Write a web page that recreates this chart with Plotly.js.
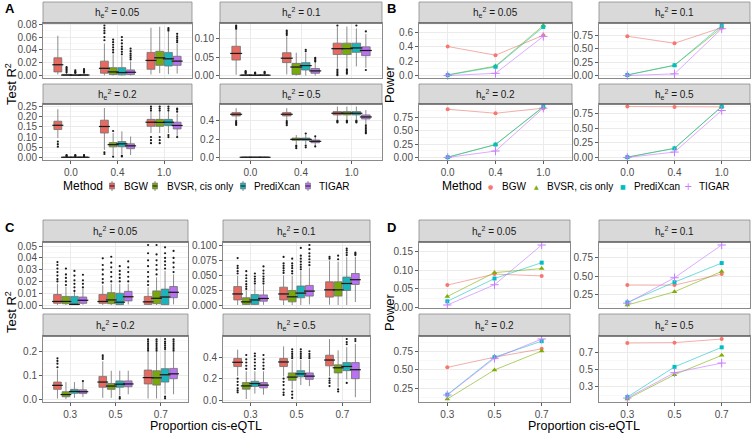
<!DOCTYPE html>
<html><head><meta charset="utf-8">
<script src="https://cdn.plot.ly/plotly-3.0.1.min.js"></script>
<style>html,body{margin:0;padding:0;background:#fff}#chart{width:754px;height:434px}</style>
</head><body><div id="chart"></div>
<script>
// ---------------- DATA ----------------
const methods = ['BGW', 'BVSR, cis only', 'PrediXcan', 'TIGAR'];
const propA = ['0.0', '0.4', '1.0'];
const propC = ['0.3', '0.5', '0.7'];
const herit = ['0.05', '0.1', '0.2', '0.5'];
// box stats: rows = methods, cols = proportion categories
// Panel A, h2 = 0.05
const A05_q1 = [[0.0056,0.0036,0.0097],[0.0002,0.0015,0.0158],[0.0001,0.001,0.0148],[0.0002,0.0015,0.0158]];
const A05_med = [[0.0168,0.0112,0.0235],[0.0007,0.0056,0.0276],[0.0005,0.0046,0.026],[0.0007,0.005,0.0224]];
const A05_q3 = [[0.0276,0.0224,0.036],[0.0017,0.0122,0.0378],[0.0013,0.0122,0.036],[0.0016,0.0087,0.030]];
const A05_lo = [[0.0015,0.0003,0.0015],[0,0,0.0036],[0,0,0.002],[0,0,0.003]];
const A05_hi = [[0.062,0.05,0.0745],[0.0039,0.033,0.076],[0.0031,0.03,0.068],[0.0037,0.022,0.0495]];
const A05_out = [[[],[0.055,0.06,0.066,0.07,0.074,0.078],[]],
  [[0.005,0.007,0.009,0.011,0.013],[0.036,0.04,0.044,0.048,0.052,0.056],[]],
  [[0.004,0.005,0.006,0.008],[0.033,0.037,0.041,0.045,0.05,0.055,0.06],[0.07,0.072,0.074]],
  [[0.0045,0.006,0.008,0.01],[0.025,0.028,0.031,0.034,0.038,0.042],[0.052,0.055,0.058,0.061,0.065]]];
// Panel A, h2 = 0.1
const A10_q1 = [[0.042,0.035,0.057],[0.0002,0.003,0.057],[0.0001,0.015,0.063],[0.0002,0.006,0.054]];
const A10_med = [[0.060,0.047,0.073],[0.0008,0.023,0.073],[0.0006,0.027,0.075],[0.0008,0.0125,0.068]];
const A10_q3 = [[0.0795,0.062,0.088],[0.002,0.033,0.088],[0.0015,0.035,0.088],[0.002,0.019,0.078]];
const A10_lo = [[0.002,0.003,0.021],[0,0,0.021],[0,0,0.025],[0,0,0.021]];
const A10_hi = [[0.124,0.106,0.133],[0.005,0.062,0.133],[0.004,0.062,0.128],[0.005,0.035,0.113]];
const A10_out = [[[0.127,0.13,0.133,0.136],[0.11,0.114,0.118,0.122],[0.001,0.004,0.008,0.012,0.016,0.136]],
  [[0.006,0.008,0.01,0.012],[],[0.005,0.009,0.013,0.017]],
  [[0.005,0.006,0.008],[0.066,0.07],[0.136]],
  [[0.006,0.008,0.01],[0.038,0.041,0.045,0.048],[0.015,0.12]]];
// Panel A, h2 = 0.2
const A20_q1 = [[0.137,0.12,0.153],[0.0002,0.052,0.153],[0.0002,0.053,0.157],[0.0002,0.043,0.14]];
const A20_med = [[0.158,0.152,0.173],[0.0008,0.063,0.172],[0.0008,0.067,0.173],[0.0008,0.057,0.157]];
const A20_q3 = [[0.178,0.183,0.187],[0.002,0.073,0.187],[0.002,0.078,0.187],[0.002,0.067,0.173]];
const A20_lo = [[0.095,0.037,0.12],[0,0.012,0.12],[0,0.015,0.12],[0,0.012,0.105]];
const A20_hi = [[0.237,0.243,0.225],[0.005,0.12,0.225],[0.005,0.128,0.225],[0.005,0.103,0.215]];
const A20_out = [[[0.078,0.065,0.053],[0.025,0.017],[0.23,0.24,0.25,0.1,0.085,0.07]],
  [[0.006,0.009,0.012],[0.13,0.004],[0.23,0.24,0.25,0.1,0.085,0.07]],
  [[0.006,0.009,0.012],[0.005,0.008],[0.23,0.24,0.25,0.11,0.1]],
  [[0.006,0.009,0.012],[],[0.225,0.235,0.24,0.1]]];
// Panel A, h2 = 0.5
const A50_q1 = [[0.451,0.451,0.462],[0.0005,0.186,0.462],[0.0005,0.186,0.462],[0.0005,0.16,0.418]];
const A50_med = [[0.469,0.469,0.48],[0.002,0.196,0.48],[0.002,0.196,0.48],[0.002,0.175,0.44]];
const A50_q3 = [[0.487,0.487,0.498],[0.004,0.211,0.498],[0.004,0.211,0.498],[0.004,0.189,0.462]];
const A50_lo = [[0.407,0.407,0.415],[0,0.145,0.415],[0,0.145,0.415],[0,0.13,0.36]];
const A50_hi = [[0.535,0.535,0.553],[0.009,0.244,0.553],[0.009,0.25,0.553],[0.009,0.22,0.516]];
const A50_out = [[[0.395,0.38,0.365,0.353],[0.395,0.38,0.365,0.35],[0.4,0.39,0.38]],
  [[],[0.13,0.115,0.1],[0.4,0.39,0.38]],
  [[],[0.26,0.13,0.11],[0.4,0.39,0.38]],
  [[],[0.23,0.12],[0.35,0.33,0.31,0.29,0.275,0.262]]];
// Panel C, h2 = 0.05
const C05_q1 = [[0.0014,0.0014,0.0005],[0.0011,0.0011,0.0011],[0.0003,0.0003,0.0003],[0.0014,0.0035,0.0062]];
const C05_med = [[0.003,0.003,0.0027],[0.003,0.0043,0.0057],[0.0005,0.0024,0.0068],[0.004,0.007,0.0108]];
const C05_q3 = [[0.0089,0.0089,0.0073],[0.0073,0.0105,0.012],[0.0073,0.01,0.0135],[0.0068,0.0116,0.0157]];
const C05_lo = [[0,0,0],[0,0,0],[0,0,0],[0.0002,0.0005,0.0005]];
const C05_hi = [[0.018,0.0167,0.015],[0.0154,0.018,0.0235],[0.011,0.018,0.029],[0.014,0.018,0.026]];
const C05_out = [[[0.02,0.022,0.025,0.028,0.031,0.034,0.0365],[0.019,0.022,0.026,0.03,0.034,0.0397],[0.017,0.02,0.024,0.028,0.033,0.038,0.044,0.051]],
  [[0.017,0.02,0.023,0.026,0.031],[0.02,0.024,0.028,0.032,0.036,0.041],[0.026,0.03,0.034,0.038,0.043,0.051]],
  [[0.012,0.015,0.018,0.021,0.025,0.029],[0.02,0.023,0.026,0.029,0.033],[0.031,0.034,0.037,0.04,0.044,0.049]],
  [[0.015,0.018,0.021,0.0257],[0.02,0.024,0.028,0.032,0.037],[0.028,0.032,0.036,0.04,0.046]]];
// Panel C, h2 = 0.1
const C10_q1 = [[0.0085,0.0085,0.0133],[0.001,0.0053,0.015],[0.001,0.0122,0.0245],[0.0064,0.015,0.0346]];
const C10_med = [[0.0186,0.0186,0.0255],[0.0053,0.0138,0.0255],[0.0085,0.02,0.0362],[0.011,0.0234,0.0426]];
const C10_q3 = [[0.031,0.03,0.039],[0.0122,0.0245,0.039],[0.0176,0.032,0.047],[0.017,0.033,0.053]];
const C10_lo = [[0,0,0.0005],[0,0,0],[0,0,0],[0.0003,0.001,0.005]];
const C10_hi = [[0.049,0.05,0.0745],[0.0245,0.049,0.073],[0.0335,0.057,0.081],[0.033,0.063,0.081]];
const C10_out = [[[0.053,0.057,0.062,0.066,0.079],[0.054,0.058,0.062,0.066,0.07,0.081],[0.078,0.081]],
  [[0.027,0.031,0.035,0.04,0.045,0.05,0.057],[0.053,0.057,0.062,0.066,0.07,0.078],[0.077,0.083]],
  [[0.036,0.04,0.044,0.048,0.053],[0.06,0.064,0.068,0.073,0.078,0.083,0.096],[0.084,0.088,0.092,0.095]],
  [[0.036,0.04,0.044,0.048,0.053,0.058,0.065],[0.067,0.072,0.077,0.082,0.087,0.094,0.101],[0.084,0.086,0.088]]];
// Panel C, h2 = 0.2
const C20_q1 = [[0.041,0.05,0.064],[0.0094,0.041,0.059],[0.024,0.05,0.072],[0.023,0.052,0.086]];
const C20_med = [[0.058,0.072,0.091],[0.019,0.055,0.09],[0.032,0.063,0.103],[0.031,0.064,0.107]];
const C20_q3 = [[0.072,0.096,0.123],[0.031,0.066,0.12],[0.041,0.077,0.129],[0.039,0.077,0.13]];
const C20_lo = [[0.002,0.005,0.002],[0,0.005,0.002],[0.005,0.015,0.02],[0.008,0.02,0.02]];
const C20_hi = [[0.126,0.16,0.2],[0.072,0.12,0.2],[0.072,0.12,0.207],[0.072,0.12,0.2]];
const C20_out = [[[0.135,0.15,0.162,0.173],[0.17,0.178,0.186],[0.205,0.213,0.221,0.229,0.237,0.245,0.253]],
  [[],[],[0.205,0.213,0.221,0.229,0.237,0.245,0.253]],
  [[],[0.002,0.008],[0.212,0.22,0.228,0.236,0.244,0.255,0.003,0.01]],
  [[0.076],[],[0.205,0.213,0.221,0.229,0.237,0.245,0.253]]];
// Panel C, h2 = 0.5
const C50_q1 = [[0.313,0.313,0.319],[0.102,0.184,0.253],[0.127,0.217,0.274],[0.114,0.193,0.199]];
const C50_med = [[0.352,0.355,0.373],[0.132,0.214,0.301],[0.154,0.244,0.313],[0.139,0.223,0.283]];
const C50_q3 = [[0.388,0.388,0.418],[0.163,0.253,0.328],[0.175,0.274,0.349],[0.163,0.253,0.349]];
const C50_lo = [[0.223,0.22,0.22],[0.01,0.1,0.117],[0.06,0.14,0.193],[0.05,0.13,0.027]];
const C50_hi = [[0.47,0.5,0.569],[0.268,0.373,0.463],[0.268,0.373,0.494],[0.268,0.373,0.524]];
const C50_out = [[[0.2,0.17,0.14,0.11,0.09,0.072],[0.2,0.17,0.14,0.1,0.07,0.048],[0.2,0.18,0.16,0.13]],
  [[0.29,0.32,0.35,0.38,0.42],[0.39,0.41,0.43,0.45,0.473,0.08,0.05,0.02],[0.1,0.08]],
  [[0.29,0.32,0.35,0.38,0.41,0.434],[0.39,0.41,0.43,0.45,0.473],[0.52,0.54,0.569,0.16]],
  [[0.29,0.32,0.35,0.38,0.42],[0.39,0.41,0.43,0.455],[0.55,0.569]]];
// Power (lines): rows = methods, cols = proportion categories
const B05_power = [[0.40,0.28,0.555],[0.01,0.13,0.69],[0.005,0.12,0.67],[0.0,0.03,0.54]];
const B10_power = [[0.73,0.60,0.89],[0.01,0.19,0.89],[0.01,0.19,0.93],[0.0,0.03,0.87]];
const B20_power = [[0.90,0.825,0.92],[0.005,0.24,0.94],[0.005,0.24,0.95],[0.0,0.12,0.92]];
const B50_power = [[0.878,0.872,0.872],[0.005,0.157,0.878],[0.005,0.157,0.878],[0.0,0.093,0.81]];
const D05_power = [[0.060,0.090,0.085],[0.029,0.094,0.105],[0.016,0.078,0.121],[0.006,0.061,0.169]];
const D10_power = [[0.382,0.38,0.53],[0.11,0.29,0.566],[0.145,0.42,0.68],[0.136,0.48,0.925]];
const D20_power = [[0.535,0.675,0.79],[0.10,0.50,0.76],[0.16,0.675,0.895],[0.155,0.66,0.925]];
const D50_power = [[0.807,0.81,0.852],[0.159,0.44,0.663],[0.181,0.53,0.756],[0.17,0.463,0.574]];

// ---------------- STYLE / LAYOUT ----------------
const W = 754, H = 434;
const boxFill = ['#E8695F', '#78A80A', '#19B5BB', '#B872F2'];
const ptCol = ['#F8766D', '#7CAE00', '#00BFC4', '#C77CFF'];
const lineCol = ['rgba(233,120,110,0.75)', 'rgba(124,174,0,0.75)', 'rgba(0,191,196,0.7)', 'rgba(199,124,255,0.8)'];
const syms = ['circle', 'triangle-up', 'square', 'cross-thin-open'];
const symSize = [4, 5, 4, 6];
const FONT = 'Liberation Sans, Arial, sans-serif';

const boxSet = (q1, med, q3, lo, hi, out) => ({q1, med, q3, lo, hi, out});
const rowsAB = [{strip:[2,23], plot:[23,78]}, {strip:[84,104], plot:[104,160]}];
const rowsCD = [{strip:[220,242], plot:[242,308]}, {strip:[314,336], plot:[336,402]}];
const colsA = [[43,192],[220,382]], colsB = [[419,572],[599,750]];
const colsC = [[43,188],[223,370]], colsD = [[419,570],[599,750]];

const panels = [
  {kind:'box', cats:propA, col:colsA[0], row:rowsAB[0], h:herit[0], d:boxSet(A05_q1,A05_med,A05_q3,A05_lo,A05_hi,A05_out), dt:0.02, t0:0, fmt:'.2f', bottom:false},
  {kind:'box', cats:propA, col:colsA[1], row:rowsAB[0], h:herit[1], d:boxSet(A10_q1,A10_med,A10_q3,A10_lo,A10_hi,A10_out), dt:0.05, t0:0, fmt:'.2f', bottom:false},
  {kind:'box', cats:propA, col:colsA[0], row:rowsAB[1], h:herit[2], d:boxSet(A20_q1,A20_med,A20_q3,A20_lo,A20_hi,A20_out), dt:0.05, t0:0, fmt:'.2f', bottom:true},
  {kind:'box', cats:propA, col:colsA[1], row:rowsAB[1], h:herit[3], d:boxSet(A50_q1,A50_med,A50_q3,A50_lo,A50_hi,A50_out), dt:0.2, t0:0, fmt:'.1f', bottom:true},
  {kind:'line', cats:propA, col:colsB[0], row:rowsAB[0], h:herit[0], v:B05_power, dt:0.2, t0:0, fmt:'.1f', bottom:false},
  {kind:'line', cats:propA, col:colsB[1], row:rowsAB[0], h:herit[1], v:B10_power, dt:0.25, t0:0, fmt:'.2f', bottom:false},
  {kind:'line', cats:propA, col:colsB[0], row:rowsAB[1], h:herit[2], v:B20_power, dt:0.25, t0:0, fmt:'.2f', bottom:true},
  {kind:'line', cats:propA, col:colsB[1], row:rowsAB[1], h:herit[3], v:B50_power, dt:0.25, t0:0, fmt:'.2f', bottom:true},
  {kind:'box', cats:propC, col:colsC[0], row:rowsCD[0], h:herit[0], d:boxSet(C05_q1,C05_med,C05_q3,C05_lo,C05_hi,C05_out), dt:0.01, t0:0, fmt:'.2f', bottom:false},
  {kind:'box', cats:propC, col:colsC[1], row:rowsCD[0], h:herit[1], d:boxSet(C10_q1,C10_med,C10_q3,C10_lo,C10_hi,C10_out), dt:0.025, t0:0, fmt:'.3f', bottom:false},
  {kind:'box', cats:propC, col:colsC[0], row:rowsCD[1], h:herit[2], d:boxSet(C20_q1,C20_med,C20_q3,C20_lo,C20_hi,C20_out), dt:0.1, t0:0, fmt:'.1f', bottom:true},
  {kind:'box', cats:propC, col:colsC[1], row:rowsCD[1], h:herit[3], d:boxSet(C50_q1,C50_med,C50_q3,C50_lo,C50_hi,C50_out), dt:0.2, t0:0, fmt:'.1f', bottom:true},
  {kind:'line', cats:propC, col:colsD[0], row:rowsCD[0], h:herit[0], v:D05_power, dt:0.05, t0:0, fmt:'.2f', bottom:false},
  {kind:'line', cats:propC, col:colsD[1], row:rowsCD[0], h:herit[1], v:D10_power, dt:0.25, t0:0, fmt:'.2f', bottom:false},
  {kind:'line', cats:propC, col:colsD[0], row:rowsCD[1], h:herit[2], v:D20_power, dt:0.25, t0:0, fmt:'.2f', bottom:true},
  {kind:'line', cats:propC, col:colsD[1], row:rowsCD[1], h:herit[3], v:D50_power, dt:0.2, t0:0.1, fmt:'.1f', bottom:true}
];

const traces = [];
const layout = {
  width: W, height: H, autosize: false,
  margin: {l:0, r:0, t:0, b:0},
  paper_bgcolor: '#fff', plot_bgcolor: '#fff',
  font: {family: FONT, size: 10, color: '#4d4d4d'},
  showlegend: false, boxmode: 'overlay',
  shapes: [], annotations: []
};
const fx = p => p / W, fy = p => 1 - p / H;
const DODGE = 0.75 / 4, BOXW = 0.169;

panels.forEach((p, i) => {
  const s = i === 0 ? '' : String(i + 1);
  const xa = 'x' + s, ya = 'y' + s;
  // data extent (like ggplot's 5% expansion)
  let vals = [];
  if (p.kind === 'box') {
    [p.d.lo, p.d.hi].forEach(a => a.forEach(r => vals.push(...r)));
    p.d.out.forEach(r => r.forEach(c => vals.push(...c)));
  } else {
    p.v.forEach(r => vals.push(...r));
  }
  const lo = Math.min(...vals), hi = Math.max(...vals), ex = (hi - lo) * 0.05;
  const pw = p.col[1] - p.col[0];
  layout['xaxis' + s] = {
    domain: [fx(p.col[0]), fx(p.col[1])], anchor: ya, range: [0.4, 3.6],
    tickvals: [1, 2, 3], ticktext: p.cats, showticklabels: p.bottom,
    ticks: p.bottom ? 'outside' : '', ticklen: 3, tickwidth: 0.8, tickcolor: '#333',
    showgrid: true, gridcolor: '#ebebeb', gridwidth: 1, zeroline: false,
    showline: true, mirror: true, linecolor: '#8a8a8a', linewidth: 1,
    tickfont: {size: 10, color: '#4d4d4d'}, fixedrange: true
  };
  layout['yaxis' + s] = {
    domain: [fy(p.row.plot[1]), fy(p.row.plot[0])], anchor: xa, range: [lo - ex, hi + ex],
    tick0: p.t0, dtick: p.dt, tickformat: p.fmt,
    ticks: 'outside', ticklen: 3, tickwidth: 0.8, tickcolor: '#333',
    showgrid: true, gridcolor: '#ebebeb', gridwidth: 1, zeroline: false,
    minor: {tick0: 0, dtick: p.dt / 2, showgrid: true, gridcolor: '#f3f3f3', gridwidth: 0.6, ticks: ''},
    showline: true, mirror: true, linecolor: '#8a8a8a', linewidth: 1,
    tickfont: {size: 10, color: '#4d4d4d'}, fixedrange: true
  };
  // strip
  layout.shapes.push({type:'rect', xref:'paper', yref:'paper', x0: fx(p.col[0]), x1: fx(p.col[1]),
    y0: fy(p.row.strip[1]), y1: fy(p.row.strip[0]), fillcolor:'#d9d9d9', line:{color:'#8a8a8a', width:0.8}});
  layout.shapes.push({type:'line', xref:'paper', yref:'paper', x0: fx(p.col[0]), x1: fx(p.col[1]),
    y0: fy(p.row.strip[1]), y1: fy(p.row.strip[1]), line:{color:'#333', width:1}});
  layout.annotations.push({xref:'paper', yref:'paper', x: fx((p.col[0]+p.col[1])/2), y: fy((p.row.strip[0]+p.row.strip[1])/2),
    text: 'h<sub>e</sub><sup>2</sup> = ' + p.h, showarrow:false, xanchor:'center', yanchor:'middle',
    font:{size:10, color:'#1a1a1a'}});

  if (p.kind === 'box') {
    const medPx = BOXW * pw / 3.2;
    for (let m = 0; m < 4; m++) {
      const off = (m - 1.5) * DODGE;
      const xs = [1 + off, 2 + off, 3 + off];
      traces.push({type:'box', xaxis: xa, yaxis: ya, x: xs,
        q1: p.d.q1[m], median: p.d.med[m], q3: p.d.q3[m], lowerfence: p.d.lo[m], upperfence: p.d.hi[m],
        width: BOXW, fillcolor: boxFill[m], line: {color:'#707070', width: 0.8}, whiskerwidth: 0,
        boxpoints: false, hoverinfo: 'skip', name: methods[m]});
      traces.push({type:'scatter', mode:'markers', xaxis: xa, yaxis: ya, x: xs, y: p.d.med[m],
        marker: {symbol:'line-ew', size: medPx, line: {color:'#1a1a1a', width: 1.2}}, hoverinfo:'skip'});
      const ox = [], oy = [];
      p.d.out[m].forEach((arr, c) => arr.forEach(v => { ox.push(xs[c]); oy.push(v); }));
      traces.push({type:'scatter', mode:'markers', xaxis: xa, yaxis: ya, x: ox, y: oy,
        marker: {size: 2.2, color:'#1a1a1a'}, hoverinfo:'skip', cliponaxis: false});
    }
  } else {
    for (let m = 0; m < 4; m++) {
      traces.push({type:'scatter', mode:'lines+markers', xaxis: xa, yaxis: ya, x: [1,2,3], y: p.v[m],
        line: {color: lineCol[m], width: 0.8},
        marker: {symbol: syms[m], size: symSize[m], color: ptCol[m], line: {color: ptCol[m], width: m === 3 ? 1 : 0}},
        hoverinfo:'skip', cliponaxis: false, name: methods[m]});
    }
  }
});

// panel letters
[['A',3,9],['B',385,9],['C',3,227],['D',385,227]].forEach(([t,x,y]) => {
  layout.annotations.push({xref:'paper', yref:'paper', x: fx(x), y: fy(y), text:'<b>'+t+'</b>', showarrow:false,
    xanchor:'left', yanchor:'middle', font:{size:13, color:'#000'}});
});
// axis titles
[['Test R<sup>2</sup>',11,84],['Power',389,84],['Test R<sup>2</sup>',11,312],['Power',389,312]].forEach(([t,x,y]) => {
  layout.annotations.push({xref:'paper', yref:'paper', x: fx(x), y: fy(y), text: t, textangle: -90, showarrow:false,
    xanchor:'center', yanchor:'middle', font:{size:13, color:'#000'}});
});
[[206,'Proportion cis-eQTL'],[584,'Proportion cis-eQTL']].forEach(([x,t]) => {
  layout.annotations.push({xref:'paper', yref:'paper', x: fx(x), y: fy(426), text: t, showarrow:false,
    xanchor:'center', yanchor:'middle', borderpad: 0, font:{size:12.5, color:'#000'}});
});

// legends (manual, ggplot-like)
const LY = 186;
const leg1Key = [112, 155, 243, 308], leg1Txt = [122, 165, 252, 317];
const leg2Key = [491, 536, 623, 688], leg2Txt = [500, 545, 632, 697];
layout.annotations.push({xref:'paper', yref:'paper', x: fx(61), y: fy(LY), text:'Method', showarrow:false,
  xanchor:'left', yanchor:'middle', font:{size:12, color:'#000'}});
layout.annotations.push({xref:'paper', yref:'paper', x: fx(440), y: fy(LY), text:'Method', showarrow:false,
  xanchor:'left', yanchor:'middle', font:{size:12, color:'#000'}});
for (let m = 0; m < 4; m++) {
  const kx = leg1Key[m];
  layout.shapes.push({type:'line', xref:'paper', yref:'paper', x0: fx(kx), x1: fx(kx), y0: fy(LY+5), y1: fy(LY-5), line:{color:'#707070', width:0.8}});
  layout.shapes.push({type:'rect', xref:'paper', yref:'paper', x0: fx(kx-2.5), x1: fx(kx+2.5), y0: fy(LY+3), y1: fy(LY-3), fillcolor: boxFill[m], line:{color:'#707070', width:0.6}});
  layout.shapes.push({type:'line', xref:'paper', yref:'paper', x0: fx(kx-2.5), x1: fx(kx+2.5), y0: fy(LY), y1: fy(LY), line:{color:'#1a1a1a', width:1}});
  layout.annotations.push({xref:'paper', yref:'paper', x: fx(leg1Txt[m]), y: fy(LY), text: methods[m], showarrow:false,
    xanchor:'left', yanchor:'middle', font:{size:10, color:'#000'}});
  const sym = ['●','▲','■','+'][m];
  const ssz = [6, 6, 6, 10][m];
  layout.annotations.push({xref:'paper', yref:'paper', x: fx(leg2Key[m]), y: fy(LY), text: sym, showarrow:false,
    xanchor:'center', yanchor:'middle', font:{size: ssz, color: ptCol[m], family:'DejaVu Sans'}});
  layout.annotations.push({xref:'paper', yref:'paper', x: fx(leg2Txt[m]), y: fy(LY), text: methods[m], showarrow:false,
    xanchor:'left', yanchor:'middle', font:{size:10, color:'#000'}});
}

Plotly.newPlot('chart', traces, layout, {staticPlot: true, displayModeBar: false});
</script>
</body></html>
